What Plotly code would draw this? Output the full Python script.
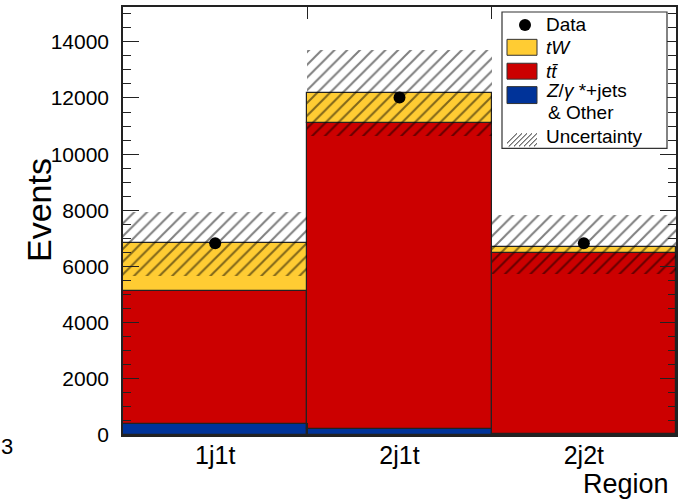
import plotly.graph_objects as go

regions = ["1j1t", "2j1t", "2j2t"]
data_obs = [6830, 12015, 6830]
zjets_other = [390, 225, 40]
ttbar = [4725, 10879, 6435]
tw = [1715, 1088, 234]
unc_up = [1110, 1524, 1113]
unc_down = [1160, 1559, 967]

FONT = "Liberation Sans, Arial, Helvetica, sans-serif"
C_TW = "#ffcc33"
C_TT = "#cc0000"
C_Z = "#003399"

x = [i + 0.5 for i in range(len(regions))]
base_tt = list(zjets_other)
base_tw = [a + b for a, b in zip(zjets_other, ttbar)]
total = [a + b for a, b in zip(base_tw, tw)]
unc_base = [t - d for t, d in zip(total, unc_down)]
unc_h = [u + d for u, d in zip(unc_up, unc_down)]

fig = go.Figure()
outline = dict(color="#222222", width=1.2)
fig.add_trace(go.Bar(x=x, y=zjets_other, base=[0] * 3, width=1, marker=dict(color=C_Z, line=outline), name="Z/γ*+jets & Other", showlegend=False))
fig.add_trace(go.Bar(x=x, y=ttbar, base=base_tt, width=1, marker=dict(color=C_TT, line=outline), name="tt̄", showlegend=False))
fig.add_trace(go.Bar(x=x, y=tw, base=base_tw, width=1, marker=dict(color=C_TW, line=outline), name="tW", showlegend=False))
fig.add_trace(go.Bar(x=x, y=unc_h, base=unc_base, width=1,
                     marker=dict(color="rgba(0,0,0,0)", line=dict(width=0),
                                 pattern=dict(shape="/", fgcolor="black", size=9, solidity=0.22, fillmode="overlay")),
                     name="Uncertainty", showlegend=False))
fig.add_trace(go.Scatter(x=x, y=data_obs, mode="markers", marker=dict(color="black", size=12), name="Data", showlegend=False))

X0, X1, Y0, Y1 = 123, 676, 435, 5
W, H = X1 - X0, Y0 - Y1
def px(v):
    return (v - X0) / W
def py(v):
    return (Y0 - v) / H

shapes = []
ann = []
shapes.append(dict(type="rect", xref="paper", yref="paper", x0=px(502), x1=px(667), y0=py(147), y1=py(10),
                   fillcolor="white", line=dict(color="#333333", width=1.2), layer="above"))
ann_font = dict(family=FONT, size=19, color="black")
legend_items = [
    (C_TW, 45.5, "<i>tW</i>"),
    (C_TT, 69.5, "<i>t</i><i>t̄</i>"),
]
shapes.append(dict(type="circle", xref="paper", yref="paper", x0=px(519), x1=px(531), y0=py(29), y1=py(17),
                   fillcolor="black", line=dict(color="black", width=0), layer="above"))
ann.append(dict(x=px(544), y=py(23), xref="paper", yref="paper", text="Data", showarrow=False,
                xanchor="left", yanchor="middle", font=ann_font))
for col, yc, txt in legend_items:
    shapes.append(dict(type="rect", xref="paper", yref="paper", x0=px(507), x1=px(537), y0=py(yc + 8), y1=py(yc - 8),
                       fillcolor=col, line=dict(color="#333333", width=1), layer="above"))
    ann.append(dict(x=px(544), y=py(yc), xref="paper", yref="paper", text=txt, showarrow=False,
                    xanchor="left", yanchor="middle", font=ann_font))
shapes.append(dict(type="rect", xref="paper", yref="paper", x0=px(507), x1=px(537), y0=py(102), y1=py(85),
                   fillcolor=C_Z, line=dict(color="#333333", width=1), layer="above"))
ann.append(dict(x=px(544), y=py(89), xref="paper", yref="paper", text="<i>Z</i>/<i>γ</i> *+jets", showarrow=False,
                xanchor="left", yanchor="middle", font=ann_font))
ann.append(dict(x=px(546), y=py(111), xref="paper", yref="paper", text="&amp; Other", showarrow=False,
                xanchor="left", yanchor="middle", font=ann_font))
ann.append(dict(x=px(544), y=py(135), xref="paper", yref="paper", text="Uncertainty", showarrow=False,
                xanchor="left", yanchor="middle", font=ann_font))
for k in range(8):
    xa = 504 + k * 5
    xs0, ys0, xs1, ys1 = xa, 145, xa + 13, 132
    if xs0 < 507:
        ys0 -= (507 - xs0); xs0 = 507
    if xs1 > 537:
        ys1 += (xs1 - 537); xs1 = 537
    if xs1 > xs0:
        shapes.append(dict(type="line", xref="paper", yref="paper", x0=px(xs0), x1=px(xs1), y0=py(ys0), y1=py(ys1),
                           line=dict(color="#222222", width=1), layer="above"))

ann.append(dict(x=px(39), y=py(209), xref="paper", yref="paper", text="Events", textangle=-90, showarrow=False,
                xanchor="center", yanchor="middle", font=dict(family=FONT, size=34, color="black")))
ann.append(dict(x=px(671), y=py(484), xref="paper", yref="paper", text="Region", showarrow=False,
                xanchor="right", yanchor="middle", font=dict(family=FONT, size=27, color="black")))
ann.append(dict(x=px(7), y=py(447), xref="paper", yref="paper", text="3", showarrow=False,
                xanchor="center", yanchor="middle", font=dict(family=FONT, size=22, color="black")))
ann.append(dict(x=px(125), y=py(-1), xref="paper", yref="paper",
                text="ATLAS Preliminary  ∫ L dt = 4.7 fb⁻¹, √s = 7 TeV", showarrow=False,
                xanchor="left", yanchor="bottom", font=dict(family=FONT, size=22, color="black")))

fig.update_layout(
    width=691, height=500,
    margin=dict(l=X0, r=691 - X1, t=Y1, b=500 - Y0, pad=0),
    paper_bgcolor="white", plot_bgcolor="white",
    barmode="overlay", bargap=0,
    font=dict(family=FONT, size=22, color="black"),
    shapes=shapes, annotations=ann,
    showlegend=False,
    xaxis=dict(range=[0, 3], tickvals=x, ticktext=regions, ticks="", showgrid=False, zeroline=False,
               showline=True, linecolor="#222222", linewidth=1.5, mirror="allticks",
               tickfont=dict(size=25), ticklabelstandoff=-3,
               minor=dict(tickvals=[1, 2], ticks="inside", ticklen=12, tickcolor="#222222", tickwidth=1.2, showgrid=False)),
    yaxis=dict(range=[0, 15240], dtick=2000, tick0=0, tickformat="d", ticks="inside", ticklen=16, tickwidth=1.2, tickcolor="#222222",
               showgrid=False, zeroline=False, showline=True, linecolor="#222222", linewidth=1.5, mirror="allticks",
               tickfont=dict(family=FONT, size=21), ticklabelstandoff=8,
               minor=dict(dtick=500, ticks="inside", ticklen=8, tickcolor="#222222", tickwidth=1.2, showgrid=False)),
)

fig.write_html("out.html")
